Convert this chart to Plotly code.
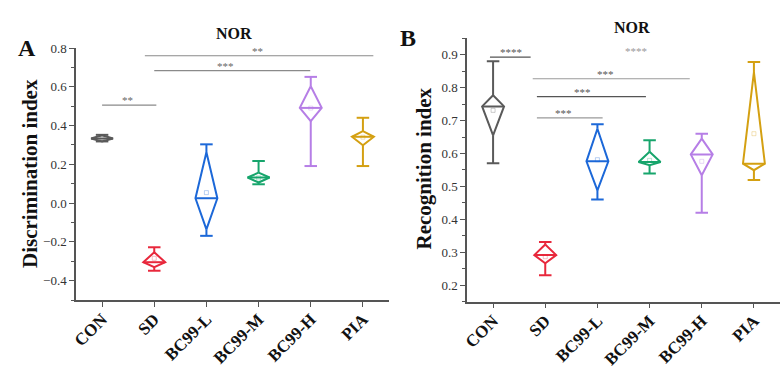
import plotly.graph_objects as go

categories = ["CON", "SD", "BC99-L", "BC99-M", "BC99-H", "PIA"]
colors = ["#5a5a5a", "#e8283c", "#1c68d8", "#17a56c", "#b67ee6", "#d4a012"]

# Panel A: Discrimination index
a_min = [0.318, -0.349, -0.169, 0.097, 0.191, 0.191]
a_max = [0.352, -0.228, 0.303, 0.217, 0.651, 0.440]
a_dtop = [0.350, -0.254, 0.262, 0.157, 0.603, 0.371]
a_med = [0.333, -0.305, 0.025, 0.132, 0.491, 0.342]
a_dbot = [0.318, -0.331, -0.136, 0.106, 0.423, 0.298]
a_mean = [0.335, -0.285, 0.054, 0.130, 0.490, 0.340]

# Panel B: Recognition index
b_min = [0.570, 0.230, 0.460, 0.539, 0.420, 0.519]
b_max = [0.880, 0.331, 0.689, 0.640, 0.660, 0.878]
b_dtop = [0.777, 0.323, 0.675, 0.605, 0.645, 0.847]
b_med = [0.743, 0.291, 0.576, 0.574, 0.597, 0.569]
b_dbot = [0.655, 0.266, 0.488, 0.564, 0.534, 0.549]
b_mean = [0.731, 0.286, 0.581, 0.579, 0.576, 0.660]

# significance brackets (x in category units)
a_sig_x0 = [0.0, 1.0, 0.82]
a_sig_x1 = [1.04, 3.99, 5.2]
a_sig_y = [0.505, 0.683, 0.760]
a_sig_lab = ["**", "***", "**"]
a_sig_tx = [0.48, 2.37, 2.97]

b_sig_x0 = [-0.06, 0.76, 0.84, 0.84]
b_sig_x1 = [0.72, 3.77, 2.93, 2.10]
b_sig_y = [0.893, 0.827, 0.773, 0.708]
b_sig_lab = ["****", "***", "***", "***"]
b_sig_tx = [0.34, 2.16, 1.72, 1.35]
b_extra_lab = "****"
b_extra_x = 2.73
b_extra_y = 0.912

SERIF = "Times New Roman, Liberation Serif, serif"
HW = 0.21   # diamond half width (category units)
CW = 0.12   # cap half width

fig = go.Figure()


def add_panel(xa, ya, vmin, vmax, dtop, med, dbot, mean):
    for i, c in enumerate(categories):
        col = colors[i]
        xs, ys = [], []
        # whiskers (outside the diamond)
        xs += [i, i, None, i, i, None]
        ys += [dtop[i], vmax[i], None, dbot[i], vmin[i], None]
        # caps
        xs += [i - CW, i + CW, None, i - CW, i + CW, None]
        ys += [vmin[i], vmin[i], None, vmax[i], vmax[i], None]
        # diamond
        xs += [i, i + HW, i, i - HW, i, None]
        ys += [dtop[i], med[i], dbot[i], med[i], dtop[i], None]
        # median line
        xs += [i - HW, i + HW]
        ys += [med[i], med[i]]
        fig.add_trace(go.Scatter(x=xs, y=ys, mode="lines", xaxis=xa, yaxis=ya,
                                 line=dict(color=col, width=2), showlegend=False,
                                 hoverinfo="skip", connectgaps=False))
        fig.add_trace(go.Scatter(x=[i], y=[mean[i]], mode="markers", xaxis=xa, yaxis=ya,
                                 marker=dict(symbol="square-open", size=4, color=col,
                                             opacity=0.3), showlegend=False))


add_panel("x", "y", a_min, a_max, a_dtop, a_med, a_dbot, a_mean)
add_panel("x2", "y2", b_min, b_max, b_dtop, b_med, b_dbot, b_mean)

# significance lines and labels
for x0, x1, y, lab, tx in zip(a_sig_x0, a_sig_x1, a_sig_y, a_sig_lab, a_sig_tx):
    fig.add_shape(type="line", xref="x", yref="y", x0=x0, x1=x1, y0=y, y1=y,
                  line=dict(color="#8a8a8a", width=1.2))
    fig.add_annotation(xref="x", yref="y", x=tx, y=y, text=lab, showarrow=False,
                       xanchor="center", yanchor="bottom", yshift=-3,
                       font=dict(family=SERIF, size=11, color="#666"))
for k, (x0, x1, y, lab, tx) in enumerate(zip(b_sig_x0, b_sig_x1, b_sig_y, b_sig_lab, b_sig_tx)):
    fig.add_shape(type="line", xref="x2", yref="y2", x0=x0, x1=x1, y0=y, y1=y,
                  line=dict(color="#555" if k in (0, 2) else "#9a9a9a", width=1.2))
    fig.add_annotation(xref="x2", yref="y2", x=tx, y=y, text=lab, showarrow=False,
                       xanchor="center", yanchor="bottom", yshift=-3,
                       font=dict(family=SERIF, size=11, color="#555"))
fig.add_annotation(xref="x2", yref="y2", x=b_extra_x, y=b_extra_y, text=b_extra_lab,
                   showarrow=False, xanchor="center", yanchor="middle",
                   font=dict(family=SERIF, size=11, color="#999"))

W, H = 781, 371
axis_common = dict(showline=True, linecolor="#555", linewidth=1.5, showgrid=False,
                   zeroline=False, ticks="outside", ticklen=5, tickwidth=1.2,
                   tickcolor="#555", automargin=False)
xax = dict(axis_common, range=[-0.5, 5.5], tickmode="array",
           tickvals=list(range(len(categories))), ticktext=categories,
           tickangle=-45, ticklabelstandoff=-4,
           tickfont=dict(family=SERIF, size=17, color="#111", weight="bold"))

fig.update_layout(
    width=W, height=H, margin=dict(l=0, r=0, t=0, b=0, autoexpand=False),
    plot_bgcolor="white", paper_bgcolor="white",
    xaxis=dict(xax, domain=[76 / W, 389 / W], anchor="y"),
    xaxis2=dict(xax, domain=[467 / W, 780 / W], anchor="y2"),
    yaxis=dict(axis_common, domain=[(H - 300) / H, (H - 48) / H], anchor="x",
               range=[-0.5, 0.8], tick0=0, dtick=0.2, tickformat=".1f",
               tickfont=dict(family=SERIF, size=13, color="#333"),
               minor=dict(ticks="outside", ticklen=3, dtick=0.1, tickcolor="#555")),
    yaxis2=dict(axis_common, domain=[(H - 301.5) / H, (H - 38.3) / H], anchor="x2",
                range=[0.15, 0.95], tick0=0, dtick=0.1, tickformat=".1f",
                tickfont=dict(family=SERIF, size=13, color="#333"),
                minor=dict(ticks="outside", ticklen=3, dtick=0.05, tickcolor="#555")),
)

# titles and labels
def paper_text(x, y, text, size, angle=0):
    fig.add_annotation(xref="paper", yref="paper", x=x / W, y=(H - y) / H, text=text,
                       showarrow=False, xanchor="center", yanchor="middle", textangle=angle,
                       font=dict(family=SERIF, size=size, color="#111"))


paper_text(234, 33.5, "<b>NOR</b>", 16)
paper_text(632, 27, "<b>NOR</b>", 16)
paper_text(27, 48, "<b>A</b>", 24)
paper_text(408, 38, "<b>B</b>", 24)
paper_text(30, 174, "<b>Discrimination index</b>", 21, -90)
paper_text(423.5, 169, "<b>Recognition index</b>", 21, -90)

fig.write_html("out.html", post_script="document.body.style.margin='0px';",
               config={"displayModeBar": False})
